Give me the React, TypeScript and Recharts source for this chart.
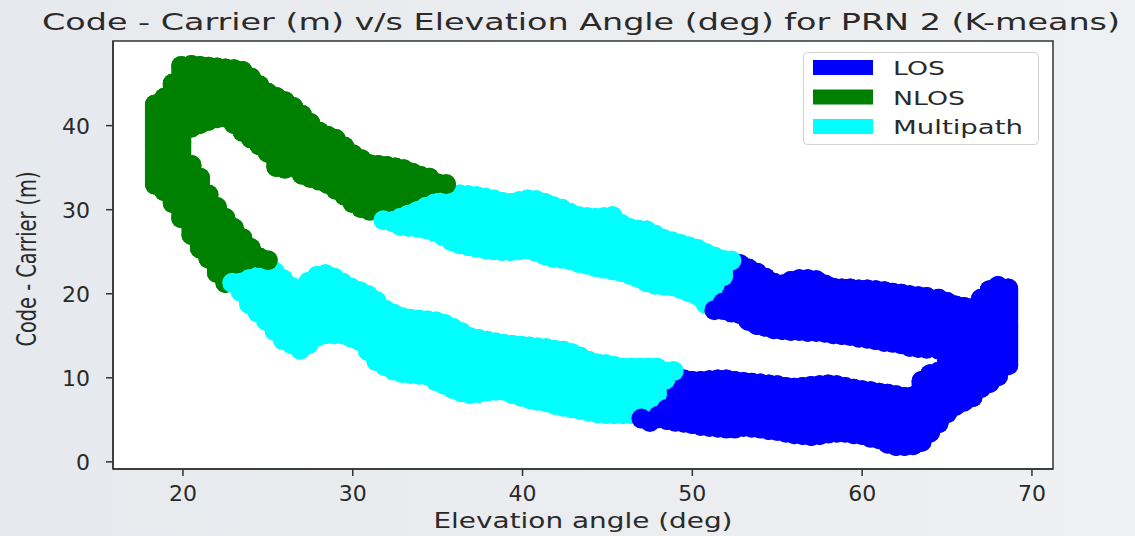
import React from 'react';
import {
  ScatterChart,
  Scatter,
  XAxis,
  YAxis,
  ErrorBar,
  CartesianGrid,
  ReferenceArea,
  Legend,
  Label,
} from 'recharts';

// ---------------- data ----------------
const TITLE = 'Code - Carrier (m) v/s Elevation Angle (deg) for PRN 2 (K-means)';
const X_LABEL = 'Elevation angle (deg)';
const Y_LABEL = 'Code - Carrier (m)';
const X_TICKS = [20, 30, 40, 50, 60, 70];
const Y_TICKS = [0, 10, 20, 30, 40];
const X_DOMAIN: [number, number] = [15.88, 71.24];
const Y_DOMAIN: [number, number] = [-0.85, 50.07];

const SERIES_NAMES = ['LOS', 'NLOS', 'Multipath'];
const SERIES_COLORS = ['#0000ff', '#008000', '#00ffff'];

// [elevation (deg), lowest code-carrier (m), highest code-carrier (m)] of the point cloud at that elevation
const LOS_POINTS: [number, number, number][] = [
  // descending pass (lower band)
  [47.0, 4.3, 6.0], [47.5, 4.1, 5.4], [48.0, 4.0, 7.0], [48.5, 3.8, 8.8],
  [49.0, 3.6, 10.6], [49.5, 3.5, 11.0], [50.0, 3.3, 10.8], [50.5, 3.1, 10.8],
  [51.0, 3.0, 10.9], [51.5, 2.9, 11.0], [52.0, 2.8, 11.0], [52.5, 2.8, 10.8],
  [53.0, 3.0, 10.7], [53.5, 2.9, 10.6], [54.0, 2.8, 10.5], [54.5, 2.6, 10.4],
  [55.0, 2.5, 10.3], [55.5, 2.3, 10.1], [56.0, 2.1, 10.0], [56.5, 2.0, 10.1],
  [57.0, 1.9, 10.2], [57.5, 2.0, 10.3], [58.0, 2.2, 10.4], [58.5, 2.3, 10.3],
  [59.0, 2.3, 10.1], [59.5, 2.1, 9.9], [60.0, 2.0, 9.7], [60.5, 1.7, 9.6],
  [61.0, 1.5, 9.4], [61.5, 1.0, 9.3], [62.0, 0.7, 9.1], [62.5, 0.7, 8.9],
  [63.0, 0.8, 9.0], [63.5, 1.2, 10.8], [64.0, 2.3, 11.6], [64.5, 3.4, 11.9],
  // ascending pass (upper band)
  [51.3, 17.2, 18.9], [51.8, 16.9, 21.0], [52.3, 16.6, 23.0], [52.8, 16.4, 24.7],
  [53.3, 15.6, 24.2], [53.8, 15.1, 23.7], [54.3, 14.9, 23.1], [54.8, 14.6, 22.5],
  [55.3, 14.5, 22.3], [55.8, 14.4, 22.7], [56.3, 14.4, 22.9], [56.8, 14.3, 22.9],
  [57.3, 14.3, 22.8], [57.8, 14.2, 22.3], [58.3, 14.0, 21.9], [58.8, 13.9, 21.8],
  [59.3, 13.8, 21.8], [59.8, 13.6, 21.7], [60.3, 13.5, 21.7], [60.8, 13.3, 21.6],
  [61.3, 13.1, 21.5], [61.8, 13.0, 21.3], [62.3, 12.8, 21.2], [62.8, 12.5, 21.0],
  [63.3, 12.4, 20.9], [63.8, 12.3, 20.8], [64.5, 12.2, 20.6],
  // turn-around at the highest elevations
  [65.0, 4.6, 20.2], [65.5, 5.5, 19.8], [66.0, 6.0, 19.6], [66.5, 6.5, 19.5],
  [67.0, 7.6, 20.6], [67.5, 8.2, 21.6], [68.0, 9.0, 22.1], [68.6, 10.3, 21.8],
];

const NLOS_POINTS: [number, number, number][] = [
  [18.35, 31.8, 43.7], [18.9, 31.0, 44.5], [19.4, 29.6, 46.2], [19.9, 27.8, 48.3],
  [20.5, 25.8, 36.5], [21.0, 24.2, 35.0], [21.5, 23.0, 33.0], [22.0, 21.3, 31.5],
  [22.5, 20.1, 30.2], [23.0, 22.0, 29.0], [23.5, 22.4, 27.8], [24.0, 22.7, 26.6],
  [24.5, 23.0, 25.5], [25.0, 23.4, 24.6],
  [20.5, 38.6, 48.4], [21.0, 39.0, 48.3], [21.5, 39.4, 48.2], [22.0, 39.7, 48.1],
  [22.5, 39.8, 48.0], [23.0, 39.0, 47.9], [23.5, 38.1, 47.7], [24.0, 37.3, 46.9],
  [24.5, 36.5, 46.0], [25.0, 35.6, 45.1], [25.5, 33.9, 44.6], [26.0, 33.7, 44.1],
  [26.5, 33.9, 43.4], [27.0, 33.0, 42.5], [27.5, 32.6, 41.5], [28.0, 32.3, 40.5],
  [28.5, 31.9, 40.0], [29.0, 31.2, 39.6], [29.5, 30.5, 38.7], [30.0, 29.6, 37.8],
  [30.5, 29.0, 37.2], [31.0, 28.7, 36.6], [31.5, 29.1, 36.5], [32.0, 29.5, 36.4],
  [32.5, 30.0, 36.2], [33.0, 30.4, 36.0], [33.5, 30.8, 35.6], [34.0, 31.2, 35.2],
  [34.5, 31.6, 35.0], [35.0, 32.1, 34.2], [35.5, 32.5, 33.6],
];

const MULTIPATH_POINTS: [number, number, number][] = [
  // upper band
  [31.8, 28.2, 29.3], [32.3, 27.4, 29.8], [32.8, 26.9, 30.2], [33.3, 26.8, 30.6],
  [33.8, 26.7, 31.0], [34.3, 26.5, 31.5], [34.8, 26.2, 31.9], [35.3, 25.7, 32.3],
  [35.8, 25.1, 32.8], [36.3, 24.7, 33.0], [36.8, 24.5, 32.9], [37.3, 24.3, 32.8],
  [37.8, 24.1, 32.6], [38.3, 24.0, 32.4], [38.8, 23.9, 32.1], [39.3, 23.9, 32.0],
  [39.8, 24.0, 32.2], [40.3, 24.1, 32.4], [40.8, 23.8, 32.3], [41.3, 23.4, 32.0],
  [41.8, 23.1, 31.6], [42.3, 23.0, 31.3], [42.8, 22.8, 30.8], [43.3, 22.5, 30.4],
  [43.8, 22.3, 30.3], [44.3, 22.0, 30.2], [44.8, 21.8, 30.3], [45.3, 21.6, 30.4],
  [45.8, 21.4, 29.5], [46.3, 21.1, 29.0], [46.8, 20.7, 28.8], [47.3, 20.2, 28.7],
  [47.8, 19.9, 28.2], [48.3, 19.8, 27.7], [48.8, 19.7, 27.4], [49.3, 19.4, 27.1],
  [49.8, 19.0, 26.8], [50.3, 18.6, 26.5], [50.8, 17.6, 26.0], [51.3, 18.9, 25.6],
  [51.8, 20.9, 25.2], [52.3, 23.0, 24.9],
  // lower band
  [22.9, 20.4, 22.2], [23.4, 19.1, 22.5], [23.9, 17.6, 22.9], [24.4, 16.6, 23.2],
  [24.9, 15.6, 23.5], [25.4, 14.4, 23.8], [25.9, 13.3, 22.9], [26.4, 12.8, 22.0],
  [26.9, 12.2, 21.7], [27.4, 12.8, 22.6], [27.9, 13.7, 23.3], [28.4, 14.0, 23.5],
  [28.9, 14.0, 23.1], [29.4, 14.0, 22.5], [29.9, 13.6, 21.9], [30.4, 13.2, 21.5],
  [30.9, 12.0, 21.0], [31.4, 10.8, 20.3], [31.9, 10.2, 19.3], [32.4, 9.7, 18.8],
  [32.9, 9.4, 18.4], [33.4, 9.3, 18.2], [33.9, 9.2, 18.1], [34.4, 9.1, 18.0],
  [34.9, 8.4, 17.9], [35.4, 8.0, 17.6], [35.9, 7.5, 17.1], [36.4, 7.1, 16.6],
  [36.9, 6.9, 16.0], [37.4, 7.0, 15.8], [37.9, 7.2, 15.6], [38.4, 7.3, 15.4],
  [38.9, 7.3, 15.2], [39.4, 6.9, 15.1], [39.9, 6.6, 15.0], [40.4, 6.3, 14.9],
  [40.9, 6.1, 14.8], [41.4, 5.9, 14.7], [41.9, 5.6, 14.5], [42.4, 5.4, 14.4],
  [42.9, 5.2, 14.1], [43.4, 5.0, 13.7], [43.9, 4.8, 13.2], [44.4, 4.6, 12.9],
  [44.9, 4.5, 12.8], [45.4, 4.5, 12.6], [45.9, 4.5, 12.4], [46.4, 4.5, 12.4],
  [46.9, 4.5, 12.4], [47.4, 5.0, 12.4], [47.9, 6.8, 12.4], [48.4, 8.6, 11.9],
  [48.9, 10.4, 11.2],
];

// ---------------- layout / style ----------------
const CHART_W = 1135;
const CHART_H = 536;
const PLOT_LEFT = 113;
const PLOT_TOP = 41;
const PLOT_RIGHT = 1053;
const PLOT_BOTTOM = 469;
const MARKER_R = 10;
const FONT = '"DejaVu Sans", Verdana, sans-serif';
const TEXT_COLOR = '#2a2a2a';
const AXIS_COLOR = '#333333';

const CAP_UNITS = (MARKER_R * (Y_DOMAIN[1] - Y_DOMAIN[0])) / (PLOT_BOTTOM - PLOT_TOP);

const toRows = (points: [number, number, number][]) =>
  points.map(([x, lo, hi]) => ({
    x,
    y: (lo + hi) / 2,
    err: Math.max(0, (hi - lo) / 2 - CAP_UNITS),
  }));

const SERIES = [
  { name: SERIES_NAMES[0], color: SERIES_COLORS[0], rows: toRows(LOS_POINTS) },
  { name: SERIES_NAMES[1], color: SERIES_COLORS[1], rows: toRows(NLOS_POINTS) },
  { name: SERIES_NAMES[2], color: SERIES_COLORS[2], rows: toRows(MULTIPATH_POINTS) },
];

// error value may live on the point itself or on its payload depending on the version
const errOf = (d: any) => {
  if (d == null) return 0;
  if (typeof d.err === 'number') return d.err;
  if (d.payload && typeof d.payload.err === 'number') return d.payload.err;
  return 0;
};

const LEGEND_TEXT_LEN = [52, 72, 130];

const XTick = (p: any) => (
  <text x={p.x} y={p.y} dy={23} textAnchor="middle" fontSize={22} fontFamily={FONT} fill={TEXT_COLOR}>
    {p.payload.value}
  </text>
);

const YTick = (p: any) => (
  <text x={p.x} y={p.y} dy={8} textAnchor="end" fontSize={22} fontFamily={FONT} fill={TEXT_COLOR}>
    {p.payload.value}
  </text>
);

const XLabelContent = (props: any) => {
  const vb = props.viewBox || { x: PLOT_LEFT, y: PLOT_BOTTOM, width: PLOT_RIGHT - PLOT_LEFT, height: 67 };
  return (
    <text
      x={vb.x + vb.width / 2}
      y={vb.y + 59}
      textAnchor="middle"
      fontSize={21}
      fontFamily={FONT}
      fill={TEXT_COLOR}
      textLength={299}
      lengthAdjust="spacingAndGlyphs"
    >
      {X_LABEL}
    </text>
  );
};

const YLabelContent = (props: any) => {
  const vb = props.viewBox || { x: 0, y: PLOT_TOP, width: PLOT_LEFT, height: PLOT_BOTTOM - PLOT_TOP };
  const cx = 35.5;
  const cy = vb.y + vb.height / 2 + 4;
  return (
    <text
      x={0}
      y={0}
      transform={`translate(${cx} ${cy}) scale(1.35 1) rotate(-90)`}
      textAnchor="middle"
      fontSize={19.3}
      fontFamily={FONT}
      fill={TEXT_COLOR}
      textLength={175}
      lengthAdjust="spacingAndGlyphs"
    >
      {Y_LABEL}
    </text>
  );
};

const LegendContent = (props: any) => {
  const items = [...(props.payload || [])].sort(
    (a: any, b: any) => SERIES_NAMES.indexOf(a.value) - SERIES_NAMES.indexOf(b.value)
  );
  return (
    <svg width={236} height={93} style={{ display: 'block' }}>
      <rect x={0.5} y={0.5} width={235} height={92} rx={4} fill="#ffffff" fillOpacity={0.85} stroke="#d2d2d2" />
      {items.map((it: any, i: number) => (
        <g key={it.value}>
          <rect x={10} y={8 + i * 29.5} width={60} height={15} fill={it.color} />
          <text
            x={90}
            y={23 + i * 29.5}
            fontSize={20}
            fontFamily={FONT}
            fill={TEXT_COLOR}
            textLength={LEGEND_TEXT_LEN[i]}
            lengthAdjust="spacingAndGlyphs"
          >
            {it.value}
          </text>
        </g>
      ))}
    </svg>
  );
};

export default function App() {
  return (
    <div
      style={{
        position: 'absolute',
        left: 0,
        top: 0,
        width: CHART_W,
        height: CHART_H,
        overflow: 'hidden',
        background: 'linear-gradient(90deg, #e6e9ed 0%, #eaecef 45%, #eef0f2 100%)',
      }}
    >
      <style>{'.recharts-errorBar line{stroke-linecap:round}'}</style>
      <ScatterChart
        width={CHART_W}
        height={CHART_H}
        margin={{ top: PLOT_TOP, right: CHART_W - PLOT_RIGHT, bottom: 0, left: 0 }}
      >
        <CartesianGrid horizontal={false} vertical={false} fill="#ffffff" />
        <XAxis
          type="number"
          dataKey="x"
          domain={X_DOMAIN}
          ticks={X_TICKS}
          allowDataOverflow
          height={CHART_H - PLOT_BOTTOM}
          tickSize={7}
          tickMargin={2}
          axisLine={{ stroke: AXIS_COLOR, strokeWidth: 1.5 }}
          tickLine={{ stroke: AXIS_COLOR, strokeWidth: 1.5 }}
          tick={XTick}
        >
          <Label content={XLabelContent} />
        </XAxis>
        <YAxis
          type="number"
          dataKey="y"
          domain={Y_DOMAIN}
          ticks={Y_TICKS}
          allowDataOverflow
          width={PLOT_LEFT}
          tickSize={7}
          tickMargin={16}
          axisLine={{ stroke: AXIS_COLOR, strokeWidth: 1.5 }}
          tickLine={{ stroke: AXIS_COLOR, strokeWidth: 1.5 }}
          tick={YTick}
        >
          <Label content={YLabelContent} />
        </YAxis>
        {SERIES.map((s) => (
          <Scatter
            key={s.name}
            name={s.name}
            data={s.rows}
            fill={s.color}
            isAnimationActive={false}
            shape={(p: any) => <circle cx={p.cx} cy={p.cy} r={MARKER_R} fill={s.color} />}
          >
            <ErrorBar
              dataKey={errOf}
              direction="y"
              width={0}
              stroke={s.color}
              strokeWidth={MARKER_R * 2}
              strokeLinecap="round"
              isAnimationActive={false}
            />
          </Scatter>
        ))}
        <ReferenceArea
          x1={X_DOMAIN[0]}
          x2={X_DOMAIN[1]}
          y1={Y_DOMAIN[0]}
          y2={Y_DOMAIN[1]}
          fill="none"
          stroke={AXIS_COLOR}
          strokeWidth={1.5}
          ifOverflow="visible"
        />
        <Legend
          layout="horizontal"
          verticalAlign="middle"
          align="center"
          wrapperStyle={{ left: 803, top: 52, width: 236, height: 93 }}
          content={LegendContent}
        />
      </ScatterChart>
      <svg
        width={CHART_W}
        height={40}
        style={{ position: 'absolute', left: 0, top: 0, pointerEvents: 'none' }}
      >
        <text
          x={581}
          y={29.5}
          textAnchor="middle"
          fontSize={23}
          fontFamily={FONT}
          fill={TEXT_COLOR}
          textLength={1078}
          lengthAdjust="spacingAndGlyphs"
        >
          {TITLE}
        </text>
      </svg>
    </div>
  );
}
